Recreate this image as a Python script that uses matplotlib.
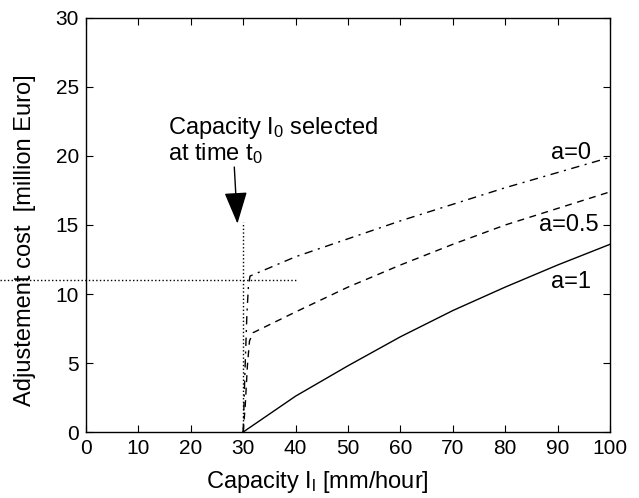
import matplotlib
matplotlib.use("Agg")
import matplotlib.pyplot as plt

plt.rcParams['font.family'] = ['Liberation Sans', 'DejaVu Sans']
plt.rcParams['mathtext.fontset'] = 'custom'
plt.rcParams['mathtext.rm'] = 'Liberation Sans'
plt.rcParams['mathtext.it'] = 'Liberation Sans'
plt.rcParams['mathtext.default'] = 'regular'

# capacity [mm/hour] and adjustment cost [million Euro]
cap_a1 = [30, 40, 50, 60, 70, 80, 90, 100]
cost_a1 = [0, 2.6, 4.8, 6.9, 8.8, 10.5, 12.1, 13.6]

cap_a05 = [30, 30.4, 30.8, 31.2, 31.9, 40, 50, 60, 70, 80, 90, 100]
cost_a05 = [0, 2.0, 4.8, 6.6, 7.2, 8.7, 10.5, 12.1, 13.6, 15.0, 16.2, 17.4]

cap_a0 = [30, 30.3, 30.7, 31.0, 31.3, 40, 50, 60, 70, 80, 90, 100]
cost_a0 = [0, 4.0, 8.5, 10.6, 11.3, 12.7, 14.0, 15.3, 16.5, 17.7, 18.8, 19.9]

I0 = 30
cost_sel = 11

fig = plt.figure(figsize=(6.39, 4.98), dpi=100)
ax = fig.add_axes([0.1346, 0.1325, 0.8200, 0.8314])

ax.plot(cap_a1, cost_a1, 'k-', lw=1)
ax.plot(cap_a05, cost_a05, 'k--', lw=1, dashes=(5, 4))
ax.plot(cap_a0, cost_a0, 'k-.', lw=1, dashes=(6, 4, 1.5, 4))

# selection markers
ax.plot([I0, I0], [0, 15.2], 'k:', lw=1)
ax.plot([-16.5, 40], [cost_sel, cost_sel], 'k:', lw=1, clip_on=False)

ax.annotate('', xy=(28.9, 15.1), xytext=(28.3, 19.2),
            arrowprops=dict(arrowstyle='-|>,head_length=1.0,head_width=0.36',
                            mutation_scale=20, color='k', lw=1, shrinkA=0, shrinkB=0))
ax.text(15.7, 23.0, 'Capacity I$_0$ selected\nat time t$_0$', fontsize=17,
        ha='left', va='top', linespacing=1.05)

ax.text(92.5, 20.2, 'a=0', fontsize=17, ha='center', va='center')
ax.text(92.1, 15.0, 'a=0.5', fontsize=17, ha='center', va='center')
ax.text(92.5, 10.9, 'a=1', fontsize=17, ha='center', va='center')

ax.set_xlim(0, 100)
ax.set_ylim(0, 30)
ax.set_xticks(range(0, 101, 10))
ax.set_yticks(range(0, 31, 5))
ax.tick_params(direction='in', top=True, right=True, labelsize=15, length=5, pad=5)
for s in ax.spines.values():
    s.set_linewidth(1)

ax.set_xlabel('Capacity I$_l$ [mm/hour]', fontsize=17)
ax.set_ylabel('Adjustement cost  [million Euro]', fontsize=17)
ax.xaxis.set_label_coords(0.442, -0.09)
ax.yaxis.set_label_coords(-0.095, 0.464)

fig.savefig('out.png', dpi=100)
